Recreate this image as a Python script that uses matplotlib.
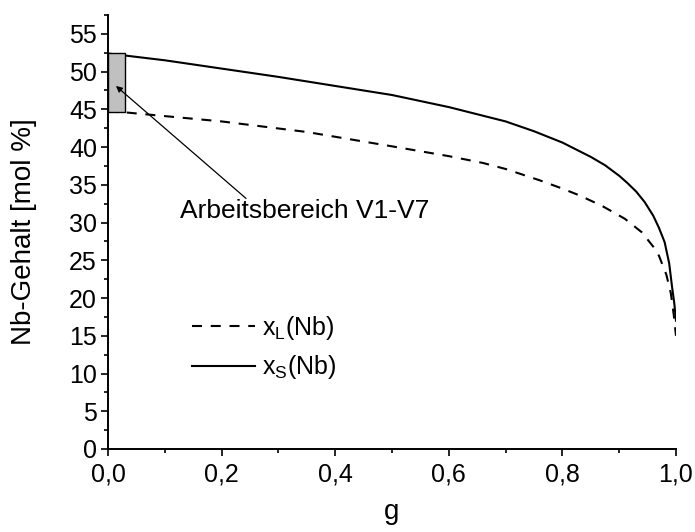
import matplotlib
matplotlib.use('Agg')
import matplotlib.pyplot as plt
from matplotlib.patches import Rectangle
from matplotlib.ticker import MultipleLocator, FixedLocator, FixedFormatter

plt.rcParams['font.family'] = ['Liberation Sans', 'DejaVu Sans']
plt.rcParams['mathtext.fontset'] = 'custom'
plt.rcParams['mathtext.rm'] = 'Liberation Sans'

# x_S(Nb): solid curve
g_s = [0, 0.1, 0.2, 0.3, 0.4, 0.5, 0.6, 0.7, 0.75, 0.8, 0.85, 0.875, 0.9, 0.915, 0.93,
       0.945, 0.96, 0.97, 0.98, 0.988, 0.993, 0.997, 1.0]
x_s = [52.4, 51.5, 50.4, 49.3, 48.1, 46.9, 45.3, 43.4, 42.1, 40.6, 38.7, 37.6, 36.2, 35.2, 34.1,
       32.7, 30.9, 29.3, 27.4, 24.6, 21.5, 19.3, 17.0]

# x_L(Nb): dashed curve
g_l = [0, 0.03, 0.2, 0.35, 0.5, 0.6, 0.66, 0.7, 0.76, 0.8, 0.83, 0.87, 0.91, 0.94, 0.96,
       0.97, 0.983, 0.991, 0.996, 1.0]
x_l = [44.7, 44.6, 43.4, 42.0, 40.1, 38.8, 37.9, 37.1, 35.6, 34.5, 33.6, 32.2, 30.5, 28.7, 26.8,
       25.6, 23.1, 20.6, 17.8, 15.0]

# working range box and annotation
box_g = [0.0, 0.03]
box_x = [44.7, 52.4]
arrow_tip = (0.014, 48.1)
arrow_tail = (0.243, 33.2)
label_pos = (0.126, 31.5)

xticks = [0, 0.2, 0.4, 0.6, 0.8, 1.0]
xtick_labels = ['0,0', '0,2', '0,4', '0,6', '0,8', '1,0']
yticks = list(range(0, 56, 5))

fig = plt.figure(figsize=(6.95, 5.32), dpi=100)
ax = fig.add_axes([108 / 695, 83 / 532, 568 / 695, 434 / 532])

ax.plot(g_l, x_l, color='black', lw=1.5, ls=(0, (4.8, 4.2)), label=r'x$_\mathregular{L}$(Nb)')
ax.plot(g_s, x_s, color='black', lw=1.5, label=r'x$_\mathregular{S}$(Nb)')

ax.add_patch(Rectangle((box_g[0], box_x[0]), box_g[1] - box_g[0], box_x[1] - box_x[0],
                       facecolor='#c0c0c0', edgecolor='black', lw=1.0, zorder=3))

ax.annotate('', xy=arrow_tip, xytext=arrow_tail,
            arrowprops=dict(arrowstyle='-|>', color='black', lw=0.9,
                            mutation_scale=9, shrinkA=0, shrinkB=0), zorder=4)
ax.text(label_pos[0], label_pos[1], 'Arbeitsbereich V1-V7', fontsize=19,
        va='center', ha='left')

ax.set_xlim(0, 1.0)
ax.set_ylim(0, 57.5)

for side in ['top', 'right']:
    ax.spines[side].set_visible(False)
for side in ['left', 'bottom']:
    ax.spines[side].set_linewidth(1.4)

ax.xaxis.set_major_locator(FixedLocator(xticks))
ax.xaxis.set_major_formatter(FixedFormatter(xtick_labels))
ax.xaxis.set_minor_locator(MultipleLocator(0.1))
ax.yaxis.set_major_locator(FixedLocator(yticks))
ax.yaxis.set_minor_locator(MultipleLocator(2.5))
ax.tick_params(which='major', direction='out', length=5, width=1.2, labelsize=18)
ax.tick_params(which='minor', direction='out', length=3, width=1.2)
ax.tick_params(axis='x', pad=5)
ax.tick_params(axis='y', pad=3)

ax.set_xlabel('g', fontsize=20, labelpad=9)
ax.set_ylabel('Nb-Gehalt [mol %]', fontsize=20, labelpad=23)

ax.legend(loc='upper left', bbox_to_anchor=(192 / 695, (532 - 314) / 532),
          bbox_transform=fig.transFigure, frameon=False, fontsize=18,
          handlelength=2.5, handletextpad=0.3, labelspacing=0.45,
          borderpad=0, borderaxespad=0)

fig.savefig('out.png', dpi=100)
